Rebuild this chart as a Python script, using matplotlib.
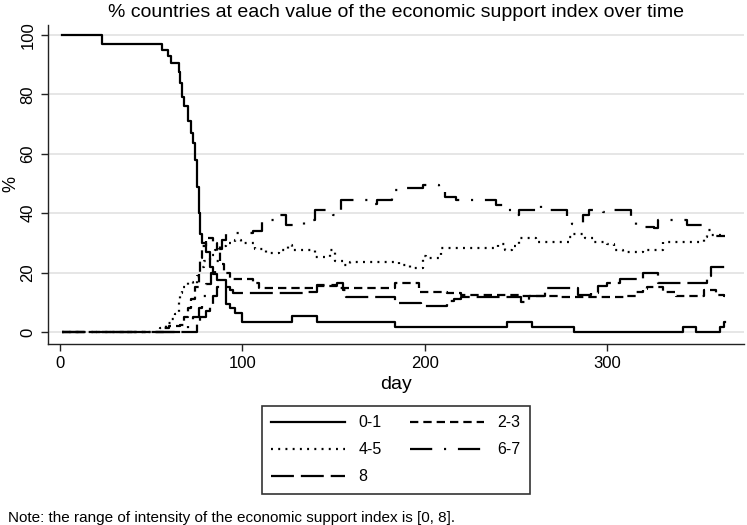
import matplotlib
matplotlib.use("Agg")
import matplotlib.pyplot as plt

plt.rcParams["font.family"] = ["Liberation Sans", "DejaVu Sans"]
plt.rcParams["lines.scale_dashes"] = False

# step breakpoints (day, % of countries)
day_01 = [1, 23, 56, 59, 61, 65, 66, 67, 68, 70, 72, 73, 74, 75, 76, 77, 78, 80, 82, 84, 86, 91, 93, 96, 100,
          127, 141, 184, 245, 259, 282, 342, 349, 362, 364, 365]
val_01 = [100, 97, 95, 93, 90.5, 87.5, 84, 79, 76, 71, 67, 63.5, 58, 49, 40, 33, 30, 27, 22, 19.5, 17.5, 9.5, 8, 6.3, 3.3,
          5.5, 3.3, 1.8, 3.3, 1.8, 0, 1.8, 0, 1.8, 3.3, 3.3]

day_23 = [1, 57, 60, 66, 68, 70, 72, 74, 76, 77, 78, 80, 84, 86, 88, 90, 93, 100, 106, 109, 140, 152, 184, 197,
          204, 212, 220, 253, 274, 310, 316, 320, 322, 331, 338, 353, 360, 364, 365]
val_23 = [0, 1.5, 2, 2.5, 5, 8, 11, 15, 20, 25, 29, 31.5, 30, 27, 23, 20, 18, 18, 16.5, 14.7, 15.5, 14.7, 16.4, 13.5,
          13.3, 13, 12.3, 12, 11.9, 12, 13.5, 14.5, 15, 13.3, 12, 14, 12.5, 12, 12]

day_45 = [1, 55, 58, 61, 63, 65, 66, 67, 70, 73, 75, 77, 79, 82, 85, 88, 91, 96, 99, 107, 113, 120, 125, 127, 140,
          148, 151, 156, 159, 186, 192, 199, 201, 209, 240, 244, 248, 252, 261, 279, 281, 288, 293, 300, 304, 309,
          320, 331, 353, 355, 365]
val_45 = [0, 1.5, 3, 4.5, 6, 10, 13, 15, 17, 16, 19, 22, 24, 26, 27.5, 29, 30, 31, 30, 28, 26.7, 27.6, 29.3, 27.6, 25.2,
          27.6, 24, 22.4, 23.5, 22.4, 21.7, 25.6, 25, 28.2, 29.7, 27.6, 29, 31.5, 30.4, 32, 33, 31.5, 30.4, 29.8, 27.6, 27,
          27.6, 30.4, 32, 32.7, 32.7]

day_67 = [1, 70, 73, 76, 78, 80, 83, 85, 87, 89, 91, 106, 111, 118, 124, 134, 140, 150, 154, 171, 174, 182, 190,
          199, 208, 211, 217, 239, 245, 250, 252, 262, 264, 278, 281, 287, 290, 298, 303, 313, 316, 326, 328, 344,
          353, 358, 365]
val_67 = [0, 2, 5, 8, 12, 16, 20, 24, 28, 31, 33.3, 34, 37.7, 39.4, 36, 37.7, 41, 39.4, 44.4, 43, 44.4, 47.8, 48.6,
          49.5, 47.2, 45.5, 44.4, 42.8, 41, 39.4, 41, 42.8, 41, 38, 36.3, 39.4, 41, 40.5, 41, 37.7, 35.5, 35, 37.7, 36,
          34.4, 32.2, 32.2]

day_8 = [1, 75, 77, 80, 82, 84, 86, 88, 93, 95, 135, 141, 152, 155, 157, 184, 198, 212, 216, 220, 253, 257, 266,
         284, 291, 295, 300, 307, 320, 328, 346, 355, 357, 365]
val_8 = [0, 3, 5, 7, 9, 12, 15, 15, 14, 13.2, 13.5, 15.8, 16.5, 14, 11.9, 9.9, 8.7, 10.5, 11, 11.9, 10.2, 12, 14.7,
         12.5, 13, 15.5, 16.4, 18, 19.7, 16.4, 16.4, 19, 22, 22]

fig = plt.figure(figsize=(7.47, 5.25), dpi=100)
ax = fig.add_axes([0.0643, 0.3448, 0.9317, 0.6076])

lw = 1.6
h01, = ax.step(day_01, val_01, where="post", color="black", lw=lw, label="0-1")
h23, = ax.step(day_23, val_23, where="post", color="black", lw=lw, dashes=(6, 3.6), label="2-3")
h45, = ax.step(day_45, val_45, where="post", color="black", lw=lw, dashes=(1.4, 3.8), label="4-5")
h67, = ax.step(day_67, val_67, where="post", color="black", lw=lw, dashes=(16, 8.5, 1.5, 8.5), label="6-7")
h8, = ax.step(day_8, val_8, where="post", color="black", lw=lw, dashes=(16.5, 5), label="8")

ax.set_xlim(-6.6, 375.2)
ax.set_ylim(-4.04, 103.4)
ax.set_xticks([0, 100, 200, 300])
ax.set_yticks([0, 20, 40, 60, 80, 100])
ax.grid(axis="y", color="#e6e6e6", lw=1.4)
ax.set_axisbelow(True)
for s in ["top", "right"]:
    ax.spines[s].set_visible(False)
for s in ["left", "bottom"]:
    ax.spines[s].set_color("#222222")
    ax.spines[s].set_linewidth(1.0)
ax.tick_params(direction="out", length=5, width=1.0, color="#222222", labelsize=12, pad=4)
plt.setp(ax.get_yticklabels(), rotation=90, va="center")

ax.set_xlabel("day", fontsize=14, labelpad=3)
ax.set_ylabel("%", fontsize=13, labelpad=1)
ax.set_title("% countries at each value of the economic support index over time", fontsize=14, pad=6)

fig.legend([h01, h45, h8, h23, h67], ["0-1", "4-5", "8", "2-3", "6-7"], ncol=2,
           loc="center", bbox_to_anchor=(0.53, 0.143), fontsize=11.5, frameon=True, fancybox=False,
           edgecolor="black", handlelength=4.6, handletextpad=0.85, columnspacing=1.8,
           labelspacing=0.75, borderpad=0.6)
for leg in fig.legends:
    leg.get_frame().set_linewidth(1.2)

fig.text(0.011, 0.006, "Note: the range of intensity of the economic support index is [0, 8].", fontsize=11)

fig.savefig("out.png", dpi=100)
